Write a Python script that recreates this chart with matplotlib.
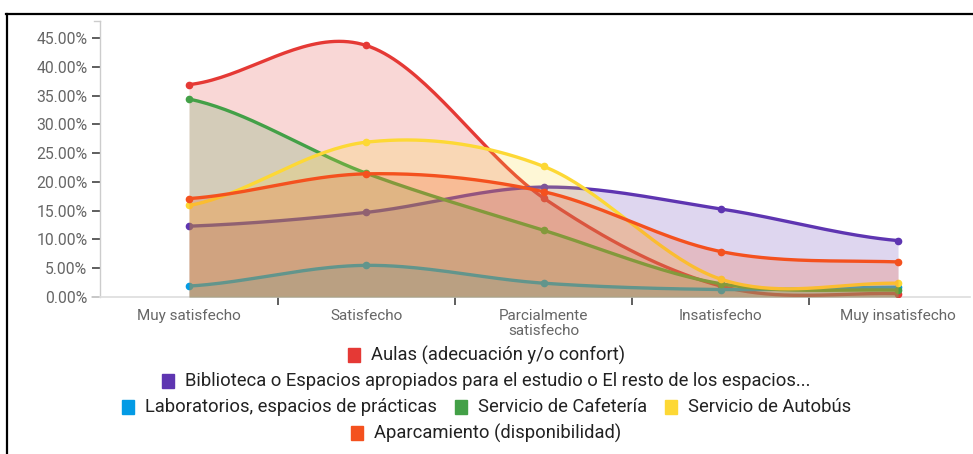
import numpy as np
import matplotlib.pyplot as plt
from matplotlib.patches import Rectangle
from matplotlib.lines import Line2D

plt.rcParams['font.family'] = ['Roboto', 'DejaVu Sans']

# --- data (percent of answers) ---
categories = ["Muy satisfecho", "Satisfecho", "Parcialmente\nsatisfecho",
              "Insatisfecho", "Muy insatisfecho"]

aulas = [36.9, 43.7, 17.2, 1.9, 0.6]
biblioteca = [12.3, 14.7, 19.1, 15.3, 9.8]
laboratorios = [1.9, 5.5, 2.4, 1.3, 1.7]
cafeteria = [34.4, 21.5, 11.6, 2.3, 1.2]
autobus = [15.9, 26.9, 22.7, 3.1, 2.4]
aparcamiento = [17.1, 21.4, 18.3, 7.9, 6.1]

series_names = ["Aulas (adecuación y/o confort)",
                "Biblioteca o Espacios apropiados para el estudio o El resto de los espacios...",
                "Laboratorios, espacios de prácticas",
                "Servicio de Cafetería",
                "Servicio de Autobús",
                "Aparcamiento (disponibilidad)"]
series_values = [aulas, biblioteca, laboratorios, cafeteria, autobus, aparcamiento]
series_colors = ["#e53935", "#5e35b1", "#039be5", "#43a047", "#fdd835", "#f4511e"]

legend_rows = [[0], [1], [2, 3, 4], [5]]
y_ticks = np.arange(0, 50, 5)


def smooth(xs, ys, n=40):
    # cardinal (catmull-rom) spline through the points, like the web chart
    xs = np.asarray(xs, float)
    ys = np.asarray(ys, float)
    p = np.concatenate([[ys[0]], ys, [ys[-1]]])
    m = (p[2:] - p[:-2]) / 2
    out_x, out_y = [], []
    for i in range(len(xs) - 1):
        t = np.linspace(0, 1, n)
        h00 = 2 * t**3 - 3 * t**2 + 1
        h10 = t**3 - 2 * t**2 + t
        h01 = -2 * t**3 + 3 * t**2
        h11 = t**3 - t**2
        out_x.append(xs[i] + t * (xs[i + 1] - xs[i]))
        out_y.append(h00 * ys[i] + h10 * m[i] + h01 * ys[i + 1] + h11 * m[i + 1])
    return np.concatenate(out_x), np.concatenate(out_y)


W, H = 973, 454
fig = plt.figure(figsize=(W / 100, H / 100), dpi=100)
ax = fig.add_axes([100.4 / W, 157 / H, 869.6 / W, 276 / H])

x = np.arange(len(categories))
for k, (vals, col) in enumerate(zip(series_values, series_colors)):
    sx, sy = smooth(x, vals)
    ax.fill_between(sx, 0, sy, color=col, alpha=0.2, lw=0, zorder=2 + 2 * k)
    ax.plot(sx, sy, color=col, lw=2.4, zorder=3 + 2 * k, solid_capstyle='round')
    ax.plot(x, vals, 'o', color=col, ms=4.5, zorder=3 + 2 * k)

ax.set_xlim(-0.5, -0.5 + 869.6 / 177.25)
ax.set_ylim(0, 45 * 276 / 259)

ax.set_yticks(y_ticks)
ax.set_yticklabels(["%.2f%%" % v for v in y_ticks])
ax.tick_params(axis='y', direction='out', length=5.8, width=1.1, color='#333333',
               labelcolor='#666666', labelsize=11.3, pad=3.5)

ax.set_xticks(x[:-1] + 0.5)
ax.set_xticklabels([])
ax.set_xticks(x, minor=True)
ax.set_xticklabels(categories, minor=True)
ax.tick_params(axis='x', which='major', direction='out', length=6, width=1.1, color='#333333')
ax.tick_params(axis='x', which='minor', length=0, labelcolor='#666666', labelsize=11, pad=8.5)
for lab in ax.get_xticklabels(minor=True):
    lab.set_linespacing(1.15)

for s in ['top', 'right']:
    ax.spines[s].set_visible(False)
ax.spines['left'].set_color('#cccccc')
ax.spines['bottom'].set_color('#dddddd')
ax.spines['left'].set_linewidth(1)
ax.spines['bottom'].set_linewidth(1.2)
# small outer ends of the axis lines
ax.plot([-6 / 869.6, 0], [1, 1], transform=ax.transAxes, color='#cccccc', lw=1, clip_on=False)
ax.plot([-8 / 869.6, 0], [0, 0], transform=ax.transAxes, color='#dddddd', lw=1.2, clip_on=False)

# frame lines of the screenshot
fig.add_artist(Line2D([6 / W, 1], [1 - 14 / H, 1 - 14 / H], color='black', lw=1.6))
fig.add_artist(Line2D([7 / W, 7 / W], [0, 1 - 14 / H], color='black', lw=1.6))

# legend, centred rows
fig.canvas.draw()
renderer = fig.canvas.get_renderer()
row_y = [355, 381, 407, 433]
box_w, box_h, gap_box, gap_item = 12, 14, 11, 18
for row, yy in zip(legend_rows, row_y):
    texts, widths = [], []
    for idx in row:
        t = fig.text(0, 1 - yy / H, series_names[idx], ha='left', va='center',
                     fontsize=13.2, color='#222222')
        texts.append(t)
        widths.append(t.get_window_extent(renderer).width)
    total = sum(box_w + gap_box + w for w in widths) + gap_item * (len(row) - 1)
    xx = W / 2 - total / 2
    for idx, t, w in zip(row, texts, widths):
        fig.patches.append(Rectangle((xx / W, 1 - (yy + box_h / 2) / H), box_w / W, box_h / H,
                                     transform=fig.transFigure, color=series_colors[idx]))
        t.set_x((xx + box_w + gap_box) / W)
        xx += box_w + gap_box + w + gap_item

fig.savefig("out.png", dpi=100)
